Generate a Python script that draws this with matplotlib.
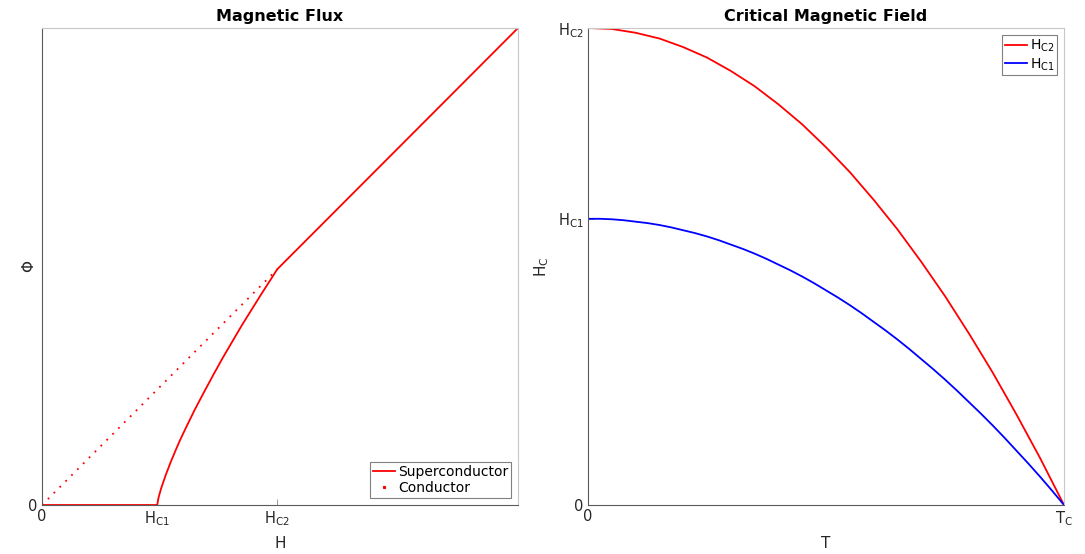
import numpy as np
from matplotlib import pyplot as plt
from matplotlib.lines import Line2D

plt.rcParams['font.family'] = ['DejaVu Sans']
plt.rcParams['mathtext.default'] = 'regular'

# 左图：磁通量
hc1 = 0.242
hc2 = 0.494
h_super = [0, 0.242, 0.245, 0.25, 0.26, 0.27, 0.28, 0.29, 0.30, 0.32, 0.34, 0.36, 0.38,
           0.40, 0.42, 0.44, 0.46, 0.48, 0.494, 1.0]
phi_super = [0, 0, 0.016, 0.034, 0.063, 0.089, 0.113, 0.136, 0.157, 0.198, 0.236, 0.273, 0.309,
             0.343, 0.377, 0.409, 0.441, 0.472, 0.494, 1.0]
h_cond = [0, 0.494]
phi_cond = [0, 0.494]
flux_xticks = [0, hc1, hc2]
flux_xlabels = ['0', '$H_{C1}$', '$H_{C2}$']

# 右图：临界磁场
t_vals = [0, 0.025, 0.05, 0.075, 0.1, 0.125, 0.15, 0.175, 0.2, 0.225, 0.25,
          0.275, 0.3, 0.325, 0.35, 0.375, 0.4, 0.425, 0.45, 0.475, 0.5,
          0.525, 0.55, 0.575, 0.6, 0.625, 0.65, 0.675, 0.7, 0.725, 0.75,
          0.775, 0.8, 0.825, 0.85, 0.875, 0.9, 0.925, 0.95, 0.975, 1.0]
hc2_vals = [1.000, 0.999, 0.998, 0.994, 0.990, 0.984, 0.978, 0.969, 0.960, 0.949, 0.938,
            0.924, 0.910, 0.894, 0.878, 0.859, 0.840, 0.819, 0.798, 0.774, 0.750,
            0.724, 0.698, 0.669, 0.640, 0.609, 0.578, 0.544, 0.510, 0.474, 0.438,
            0.399, 0.360, 0.319, 0.278, 0.234, 0.190, 0.144, 0.098, 0.049, 0.000]
hc1_vals = [0.600, 0.600, 0.599, 0.597, 0.594, 0.591, 0.587, 0.582, 0.576, 0.570, 0.563,
            0.555, 0.546, 0.537, 0.527, 0.516, 0.504, 0.492, 0.479, 0.465, 0.450,
            0.435, 0.419, 0.402, 0.384, 0.366, 0.347, 0.327, 0.306, 0.285, 0.263,
            0.240, 0.216, 0.192, 0.167, 0.141, 0.114, 0.087, 0.059, 0.030, 0.000]
field_yticks = [0, 0.6, 1.0]
field_ylabels = ['0', '$H_{C1}$', '$H_{C2}$']

fig = plt.figure(figsize=(10.85, 5.54), dpi=100)
ax1 = fig.add_axes([42/1085, 49/554, 476/1085, 477/554])
ax2 = fig.add_axes([588/1085, 49/554, 476/1085, 477/554])

def style_ax(ax):
    for s in ['left', 'bottom']:
        ax.spines[s].set_color('#5a5a5a')
    for s in ['top', 'right']:
        ax.spines[s].set_color('#c8c8c8')
    for s in ax.spines.values():
        s.set_linewidth(0.8)
    ax.tick_params(direction='in', length=4, width=0.6, colors='#8a8a8a',
                   labelcolor='#262626', labelsize=10.5, pad=3)

ax1.plot(h_super, phi_super, color='red', lw=1.3)
ax1.plot(h_cond, phi_cond, color='red', lw=1.3, linestyle=(0, (1, 3.6)))
ax1.set_xlim(0, 1)
ax1.set_ylim(0, 1)
ax1.set_xticks(flux_xticks)
ax1.set_xticklabels(flux_xlabels)
ax1.set_yticks([0])
ax1.set_yticklabels(['0'])
ax1.set_xlabel('H', fontsize=11, color='#262626', labelpad=6)
ax1.set_ylabel('Φ', fontsize=11, color='#262626')
ax1.yaxis.set_label_coords(-0.012, 0.5)
ax1.set_title('Magnetic Flux', fontsize=11.5, fontweight='bold', pad=5)
style_ax(ax1)
handles1 = [Line2D([], [], color='red', lw=1.3),
            Line2D([], [], color='red', ls='none', marker='s', markersize=1.3)]
leg1 = ax1.legend(handles1, ['Superconductor', 'Conductor'], loc='lower right', fontsize=10,
                  fancybox=False, framealpha=1, edgecolor='#808080', handlelength=1.6,
                  handletextpad=0.2, borderpad=0.2, labelspacing=0.15, borderaxespad=0.5)
leg1.get_frame().set_linewidth(0.8)

ax2.plot(t_vals, hc2_vals, color='red', lw=1.3, label='$H_{C2}$')
ax2.plot(t_vals, hc1_vals, color='blue', lw=1.3, label='$H_{C1}$')
ax2.set_xlim(0, 1)
ax2.set_ylim(0, 1)
ax2.set_xticks([0, 1])
ax2.set_xticklabels(['0', '$T_C$'])
ax2.set_yticks(field_yticks)
ax2.set_yticklabels(field_ylabels)
ax2.set_xlabel('T', fontsize=11, color='#262626', labelpad=6)
ax2.set_ylabel('$H_C$', fontsize=11, color='#262626')
ax2.yaxis.set_label_coords(-0.078, 0.5)
ax2.set_title('Critical Magnetic Field', fontsize=11.5, fontweight='bold', pad=5)
style_ax(ax2)
leg2 = ax2.legend(loc='upper right', fontsize=10, fancybox=False, framealpha=1,
                  edgecolor='#808080', handlelength=1.6, handletextpad=0.2,
                  borderpad=0.2, labelspacing=0.15, borderaxespad=0.5)
leg2.get_frame().set_linewidth(0.8)

fig.savefig('out.png', dpi=100)
